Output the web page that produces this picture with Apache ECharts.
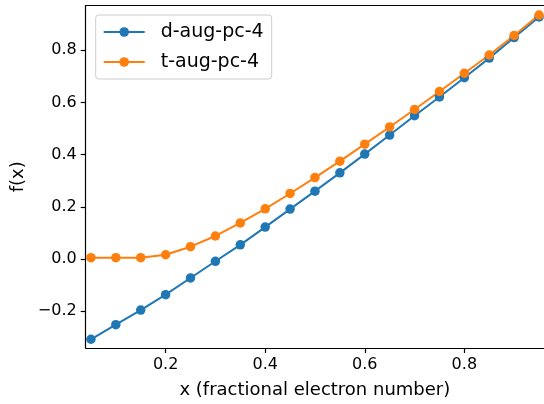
<!DOCTYPE html>
<html>
<head>
<meta charset="utf-8">
<script src="https://cdn.jsdelivr.net/npm/echarts@6/dist/echarts.min.js"></script>
<style>
html,body{margin:0;padding:0;background:#fff;}
#chart{width:544px;height:404px;}
</style>
</head>
<body>
<div id="chart"></div>
<script>
const xValues = [0.05,0.10,0.15,0.20,0.25,0.30,0.35,0.40,0.45,0.50,0.55,0.60,0.65,0.70,0.75,0.80,0.85,0.90,0.95];
const dAugPc4 = [-0.308,-0.252,-0.196,-0.137,-0.073,-0.009,0.054,0.122,0.191,0.260,0.330,0.402,0.475,0.549,0.621,0.695,0.770,0.849,0.928];
const tAugPc4 = [0.005,0.005,0.005,0.016,0.047,0.088,0.138,0.192,0.251,0.312,0.375,0.440,0.506,0.573,0.642,0.712,0.782,0.857,0.935];
const xTicks = [0.2,0.4,0.6,0.8];
const yTicks = [-0.2,0.0,0.2,0.4,0.6,0.8];
const seriesNames = ['d-aug-pc-4','t-aug-pc-4'];
const colors = ['#1f77b4','#ff7f0e'];

const font = 'DejaVu Sans';
const fmt = v => v.toFixed(1).replace('-', '\u2212');
const pairs = ys => xValues.map((x,i)=>[x, ys[i]]);

const chart = echarts.init(document.getElementById('chart'), null, {renderer:'canvas'});
chart.setOption({
  animation: false,
  backgroundColor: '#fff',
  grid: {left: 85.7, top: 5.7, right: -7.3, bottom: 48.5, containLabel: false},
  legend: {
    orient: 'vertical',
    left: 95.7, top: 15,
    padding: [7, 8, 7, 7],
    itemWidth: 41, itemHeight: 12, itemGap: 10,
    borderColor: '#cccccc', borderWidth: 1, borderRadius: 3,
    backgroundColor: 'rgba(255,255,255,0.8)',
    textStyle: {fontFamily: font, fontSize: 19, color: '#000', lineHeight: 20, padding: [0,0,0,11]},
    data: seriesNames
  },
  xAxis: [{
    type: 'value', min: 0.0395, max: 0.96, position: 'bottom',
    name: 'x (fractional electron number)', nameLocation: 'middle', nameGap: 33,
    nameTextStyle: {fontFamily: font, fontSize: 18, color: '#000'},
    axisLine: {show: true, onZero: false, lineStyle: {color: '#000', width: 1.2}},
    axisTick: {show: true, length: 5, lineStyle: {color: '#000', width: 1.2}, customValues: xTicks},
    axisLabel: {fontFamily: font, fontSize: 16, color: '#000', margin: 9, customValues: xTicks, formatter: fmt},
    splitLine: {show: false}
  },{
    type: 'value', min: 0.0395, max: 0.96, position: 'top',
    axisLine: {show: true, onZero: false, lineStyle: {color: '#000', width: 1.2}},
    axisTick: {show: false}, axisLabel: {show: false}, splitLine: {show: false}
  }],
  yAxis: {
    type: 'value', min: -0.3415, max: 0.971,
    name: 'f(x)', nameLocation: 'middle', nameGap: 58,
    nameTextStyle: {fontFamily: font, fontSize: 18, color: '#000'},
    axisLine: {show: true, onZero: false, lineStyle: {color: '#000', width: 1.2}},
    axisTick: {show: true, length: 5, lineStyle: {color: '#000', width: 1.2}, customValues: yTicks},
    axisLabel: {fontFamily: font, fontSize: 16, color: '#000', margin: 9, customValues: yTicks, formatter: fmt},
    splitLine: {show: false}
  },
  series: [
    {name: seriesNames[0], type: 'line', data: pairs(dAugPc4), color: colors[0],
     symbol: 'circle', symbolSize: 9.5, showAllSymbol: true, clip: false,
     lineStyle: {width: 2, color: colors[0]}, itemStyle: {color: colors[0]}},
    {name: seriesNames[1], type: 'line', data: pairs(tAugPc4), color: colors[1],
     symbol: 'circle', symbolSize: 9.5, showAllSymbol: true, clip: false,
     lineStyle: {width: 2, color: colors[1]}, itemStyle: {color: colors[1]}}
  ]
});
</script>
</body>
</html>
